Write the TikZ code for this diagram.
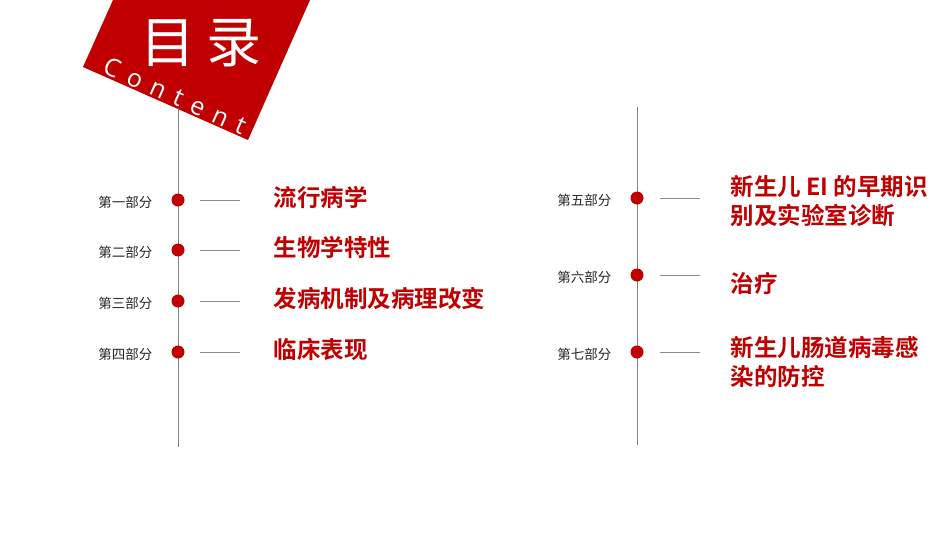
\documentclass[tikz,border=0pt]{standalone}
\usepackage{fontspec}
\newfontfamily\cjk{Noto Sans CJK SC}
\newfontfamily\cjkb{Noto Sans CJK SC Bold}
\newfontfamily\lat[LetterSpace=40]{Open Sans}
\definecolor{myred}{HTML}{C00000}
\begin{document}
\begin{tikzpicture}[x=1pt,y=-1pt,
  dotn/.style={circle,fill=myred,inner sep=0pt,minimum size=13},
  part/.style={anchor=east,font=\cjk\fontsize{13.5}{15}\selectfont,text=black!85},
  ttl/.style={anchor=west,align=left,font=\cjkb\fontsize{23.5}{29}\selectfont,text=myred},
  tick/.style={draw=black!45,line width=0.6pt},
  axis/.style={draw=black!50,line width=0.8pt}]
\useasboundingbox (0,0) rectangle (950,535);
\fill[myred] (113,0) -- (310,0) -- (248,140) -- (83,67) -- cycle;
\node[text=white,font=\cjk\fontsize{55}{60}\selectfont] (mulu) at (201,43) {目\hspace{12pt}录};
\node[text=white,rotate=-24,font=\lat\fontsize{25}{28}\selectfont] (content) at (175,96) {Content};
\coordinate (l1) at (178,108); \coordinate (l2) at (178,447);
\draw[axis] (l1) -- (l2);
\coordinate (r1) at (637,107); \coordinate (r2) at (637,445);
\draw[axis] (r1) -- (r2);
\foreach \i/\y/\p/\t in {1/200/第一部分/流行病学,2/250/第二部分/生物学特性,3/301/第三部分/发病机制及病理改变,4/352/第四部分/临床表现}{
  \node[dotn] (d\i) at (178,\y) {};
  \node[part] (p\i) at (156,\y+2) {\p};
  \coordinate (a\i) at (200,\y); \coordinate (b\i) at (240,\y);
  \draw[tick] (a\i) -- (b\i);
  \node[ttl] (t\i) at (270,\y-3) {\t};
}
\foreach \i/\y/\p/\t/\dy in {5/198/第五部分/{新生儿 EI 的早期识\\别及实验室诊断}/3,6/275/第六部分/治疗/9,7/352/第七部分/{新生儿肠道病毒感\\染的防控}/10}{
  \node[dotn] (d\i) at (637,\y) {};
  \node[part] (p\i) at (615,\y+2) {\p};
  \coordinate (a\i) at (660,\y); \coordinate (b\i) at (700,\y);
  \draw[tick] (a\i) -- (b\i);
  \node[ttl] (t\i) at (727,\y+\dy) {\t};
}
\end{tikzpicture}
\end{document}
